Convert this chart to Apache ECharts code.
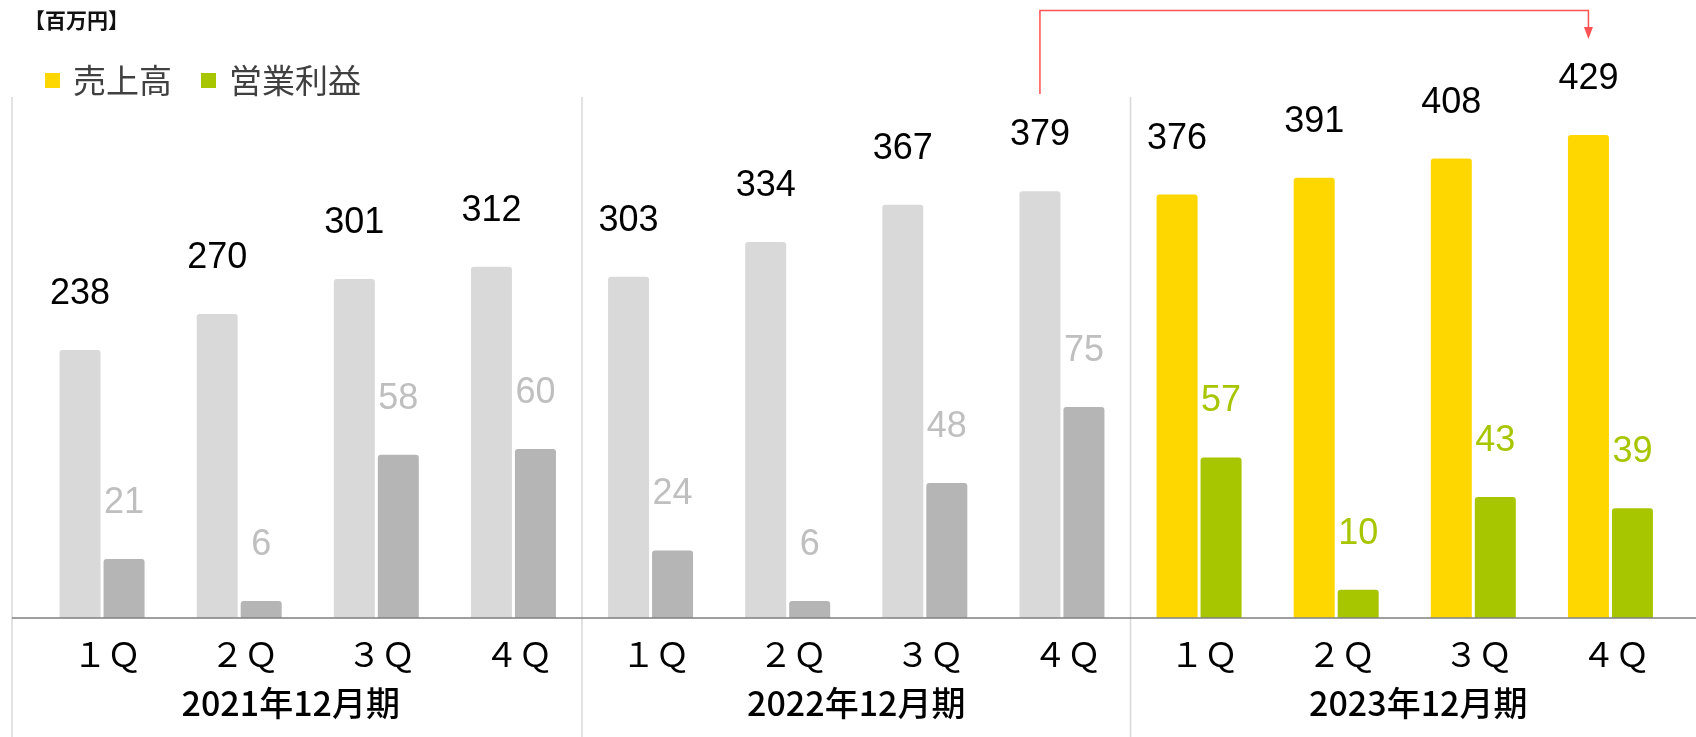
<!DOCTYPE html>
<html>
<head>
<meta charset="utf-8">
<script src="https://cdn.jsdelivr.net/npm/echarts@6/dist/echarts.min.js"></script>
<style>
  html, body { margin: 0; padding: 0; background: #ffffff; }
  #chart { width: 1696px; height: 737px; }
</style>
</head>
<body>
<div id="chart"></div>
<script>
// Quarterly results, 百万円
const quarters = ['１Ｑ', '２Ｑ', '３Ｑ', '４Ｑ', '１Ｑ', '２Ｑ', '３Ｑ', '４Ｑ', '１Ｑ', '２Ｑ', '３Ｑ', '４Ｑ'];
const periods = ['2021年12月期', '2022年12月期', '2023年12月期'];
const sales = [238, 270, 301, 312, 303, 334, 367, 379, 376, 391, 408, 429];      // 売上高
const profit = [21, 6, 58, 60, 24, 6, 48, 75, 57, 10, 43, 39];                   // 営業利益
const latestStart = 8;   // first quarter of the latest fiscal year (highlighted)

const C = {
  sales: '#FFD700', salesPast: '#D9D9D9',
  profit: '#A8C600', profitPast: '#B5B5B5',
  profitLabelPast: '#BFBFBF',
  sep: '#D9D9D9', axis: '#7F7F7F', arrow: '#FF5252'
};
const NUM_FONT = '"Liberation Sans", Arial, sans-serif';
const JP_FONT = '"Noto Sans CJK JP", "Noto Sans CJK SC", sans-serif';
const BAR_W = 41, BAR_GAP = 3;

const salesData = sales.map((v, i) => ({
  value: v,
  itemStyle: { color: i >= latestStart ? C.sales : C.salesPast }
}));
const profitData = profit.map((v, i) => ({
  value: v,
  itemStyle: { color: i >= latestStart ? C.profit : C.profitPast },
  label: { color: i >= latestStart ? C.profit : C.profitLabelPast }
}));

const chart = echarts.init(document.getElementById('chart'), null, { renderer: 'canvas' });

const periodRich = {
  p0: { fontSize: 34, fontFamily: JP_FONT, fontWeight: 500, color: '#000', padding: [0, 34, 0, 0] },
  p1: { fontSize: 34, fontFamily: JP_FONT, fontWeight: 500, color: '#000' },
  p2: { fontSize: 34, fontFamily: JP_FONT, fontWeight: 500, color: '#000', padding: [0, 0, 0, 27] }
};

chart.setOption({
  animation: false,
  backgroundColor: '#ffffff',
  grid: { left: 33.5, right: 17, top: 55, bottom: 119, containLabel: false },
  legend: {
    left: 40, top: 59,
    icon: 'rect', itemWidth: 15, itemHeight: 15, itemGap: 29,
    textStyle: { fontSize: 33, fontFamily: JP_FONT, color: '#404040', padding: [0, 0, 0, 8] },
    data: ['売上高', '営業利益']
  },
  xAxis: [
    {
      type: 'category', data: quarters, position: 'bottom',
      axisLine: { show: false }, axisTick: { show: false },
      axisLabel: {
        interval: 0, margin: 19, fontSize: 34, fontFamily: JP_FONT, color: '#000000',
        padding: [0, 0, 0, 10]
      }
    },
    {
      type: 'category', data: periods, position: 'bottom',
      axisLine: { show: false }, axisTick: { show: false },
      axisLabel: {
        interval: 0, margin: 68,
        formatter: (v, idx) => `{p${idx}|${v}}`,
        rich: periodRich
      }
    }
  ],
  yAxis: [
    { type: 'value', min: 0, max: 500, show: false, splitLine: { show: false } },
    { type: 'value', min: 0, max: 200, show: false, splitLine: { show: false } }
  ],
  series: [
    {
      name: '売上高', type: 'bar', xAxisIndex: 0, yAxisIndex: 0,
      barWidth: BAR_W, barGap: (BAR_GAP / BAR_W * 100) + '%',
      itemStyle: { color: C.sales, borderRadius: [3, 3, 0, 0] },
      label: {
        show: true, position: 'top', distance: 38,
        fontSize: 36, fontFamily: NUM_FONT, color: '#000000'
      },
      data: salesData
    },
    {
      name: '営業利益', type: 'bar', xAxisIndex: 0, yAxisIndex: 1,
      barWidth: BAR_W,
      itemStyle: { color: C.profit, borderRadius: [3, 3, 0, 0] },
      label: {
        show: true, position: 'top', distance: 38,
        fontSize: 36, fontFamily: NUM_FONT
      },
      data: profitData
    }
  ]
});

// Frame lines, baseline, unit caption and the year-over-year arrow
function drawOverlay() {
  const cx = i => chart.convertToPixel({ xAxisIndex: 0 }, i);
  const baseY = chart.convertToPixel({ yAxisIndex: 0 }, 0);
  const H = chart.getHeight(), W = chart.getWidth();
  const sepTop = 97;
  const boundary = i => (cx(i - 1) + cx(i)) / 2;
  const salesCenter = i => cx(i) - (BAR_W + BAR_GAP) / 2;

  const elements = [
    {
      type: 'text', left: 24, top: 10,
      style: { text: '【百万円】', fontSize: 21, fontWeight: 'bold', fontFamily: JP_FONT, fill: '#111' }
    },
    { type: 'line', shape: { x1: 12, y1: sepTop, x2: 12, y2: H }, style: { stroke: C.sep, lineWidth: 1.5 } },
    { type: 'line', shape: { x1: boundary(4), y1: sepTop, x2: boundary(4), y2: H }, style: { stroke: C.sep, lineWidth: 1.5 } },
    { type: 'line', shape: { x1: boundary(8), y1: sepTop, x2: boundary(8), y2: H }, style: { stroke: C.sep, lineWidth: 1.5 } },
    { type: 'line', shape: { x1: 12, y1: baseY, x2: W, y2: baseY }, style: { stroke: C.axis, lineWidth: 1.5 }, z: 10 }
  ];

  const xa = salesCenter(7), xb = salesCenter(11);
  elements.push({
    type: 'polyline',
    shape: { points: [[xa, 94], [xa, 10.5], [xb, 10.5], [xb, 29]] },
    style: { stroke: C.arrow, lineWidth: 1.5, fill: null }
  });
  elements.push({
    type: 'polygon',
    shape: { points: [[xb - 4.5, 27], [xb + 4.5, 27], [xb, 39]] },
    style: { fill: C.arrow }
  });

  chart.setOption({ graphic: { elements } });
}
drawOverlay();
</script>
</body>
</html>
